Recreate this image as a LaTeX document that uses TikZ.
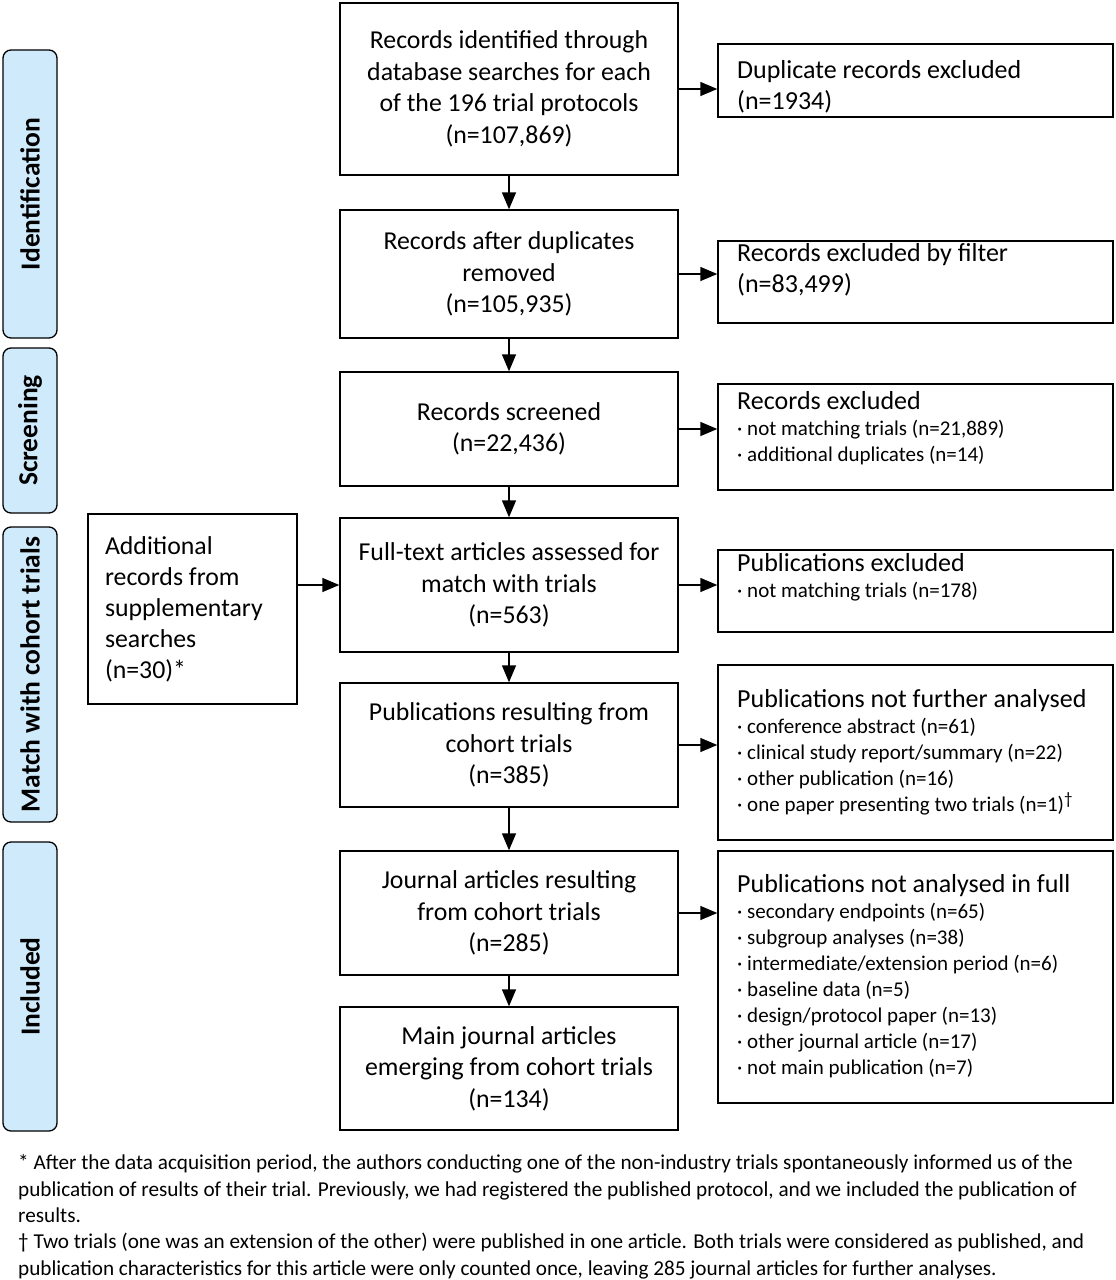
\documentclass[tikz,border=0pt]{standalone}
\usepackage{fontspec}
\setmainfont{Carlito}
\usetikzlibrary{arrows.meta,calc}
\definecolor{sidefill}{RGB}{206,234,251}
\begin{document}
\begin{tikzpicture}[x=1pt,y=-1pt,
  box/.style={draw, line width=1.4pt, minimum width=338pt, align=center, inner sep=0pt, font=\fontsize{25.8}{31.5}\selectfont},
  rbox/.style={draw, line width=1.4pt, minimum width=395pt, inner sep=0pt},
  rtext/.style={anchor=base west, align=left, inner sep=0pt, font=\fontsize{21}{26}\selectfont},
  rtwo/.style={anchor=base west, align=left, inner sep=0pt, font=\fontsize{26}{31.5}\selectfont},
  side/.style={draw, line width=1.3pt, fill=sidefill, rounded corners=8pt, minimum height=54pt, inner sep=0pt, rotate=90, font=\fontsize{27.5}{30}\selectfont\bfseries},
  arr/.style={line width=1.4pt, -{Triangle[length=17pt,width=14pt]}}
]
\useasboundingbox (0,0) rectangle (1116,1280);
\newcommand{\ttl}[1]{{\fontsize{26}{26}\selectfont #1}}
% side labels
\node[side, minimum width=288pt] (sid) at (30,194) {Identification};
\node[side, minimum width=165pt] (sscr) at (30,430.5) {Screening};
\node[side, minimum width=295pt] (smat) at (30,674.5) {Match with cohort trials};
\node[side, minimum width=289pt] (sinc) at (30,986.5) {Included};
% centre column
\node[box, minimum height=172pt] (b1) at (509,89) {Records identified through\\database searches for each\\of the 196 trial protocols\\(n=107,869)};
\node[box, minimum height=128pt] (b2) at (509,274) {Records after duplicates\\removed\\(n=105,935)};
\node[box, minimum height=114pt] (b3) at (509,429) {Records screened\\(n=22,436)};
\node[box, minimum height=134pt] (b4) at (509,585) {Full-text articles assessed for\\match with trials\\(n=563)};
\node[box, minimum height=124pt] (b5) at (509,745) {Publications resulting from\\cohort trials\\(n=385)};
\node[box, minimum height=124pt] (b6) at (509,913) {Journal articles resulting\\from cohort trials\\(n=285)};
\node[box, minimum height=123pt] (b7) at (509,1068.5) {Main journal articles\\emerging from cohort trials\\(n=134)};
% left box
\node[draw, line width=1.4pt, minimum width=209pt, minimum height=190pt, text width=175pt, align=flush left, inner sep=0pt, font=\fontsize{25.8}{31}\selectfont] (lb) at (192.5,609) {Additional\\records from\\supplementary\\searches\\(n=30)*};
% right boxes
\node[rbox, minimum height=73pt] (r1) at (915.5,80.5) {};
\node[rbox, minimum height=82pt] (r2) at (915.5,282) {};
\node[rbox, minimum height=106pt] (r3) at (915.5,437) {};
\node[rbox, minimum height=82pt] (r4) at (915.5,591) {};
\node[rbox, minimum height=175pt] (r5) at (915.5,752.5) {};
\node[rbox, minimum height=252pt] (r6) at (915.5,977) {};
\node[rtwo] (t1) at (737,109.5) {Duplicate records excluded\\(n=1934)};
\node[rtwo] (t2) at (737,292.5) {Records excluded by filter\\(n=83,499)};
\node[rtext] (t3) at (737,461) {\ttl{Records excluded}\\· not matching trials (n=21,889)\\· additional duplicates (n=14)};
\node[rtext] (t4) at (737,597) {\ttl{Publications excluded}\\· not matching trials (n=178)};
\node[rtext] (t5) at (737,811) {\ttl{Publications not further analysed}\\· conference abstract (n=61)\\· clinical study report/summary (n=22)\\· other publication (n=16)\\· one paper presenting two trials (n=1)\raisebox{7pt}{\fontsize{17}{17}\selectfont †}};
\node[rtext] (t6) at (737,1074) {\ttl{Publications not analysed in full}\\· secondary endpoints (n=65)\\· subgroup analyses (n=38)\\· intermediate/extension period (n=6)\\· baseline data (n=5)\\· design/protocol paper (n=13)\\· other journal article (n=17)\\· not main publication (n=7)};
% arrows
\draw[arr] (b1) -- (b2);
\draw[arr] (b2) -- (b3);
\draw[arr] (b3) -- (b4);
\draw[arr] (b4) -- (b5);
\draw[arr] (b5) -- (b6);
\draw[arr] (b6) -- (b7);
\draw[arr] (b1.east) -- (b1.east -| r1.west);
\draw[arr] (b2.east) -- (b2.east -| r2.west);
\draw[arr] (b3.east) -- (b3.east -| r3.west);
\draw[arr] (b4.east) -- (b4.east -| r4.west);
\draw[arr] (b5.east) -- (b5.east -| r5.west);
\draw[arr] (b6.east) -- (b6.east -| r6.west);
\draw[arr] (lb.east |- b4.west) -- (b4.west);
% footnotes
\node[anchor=base west, align=left, inner sep=0pt, font=\fontsize{21.2}{26.3}\selectfont] (fn) at (18,1275) {* After the data acquisition period, the authors conducting one of the non-industry trials spontaneously informed us of the\\publication of results of their trial. Previously, we had registered the published protocol, and we included the publication of\\results.\\† Two trials (one was an extension of the other) were published in one article. Both trials were considered as published, and\\publication characteristics for this article were only counted once, leaving 285 journal articles for further analyses.};
\end{tikzpicture}
\end{document}
